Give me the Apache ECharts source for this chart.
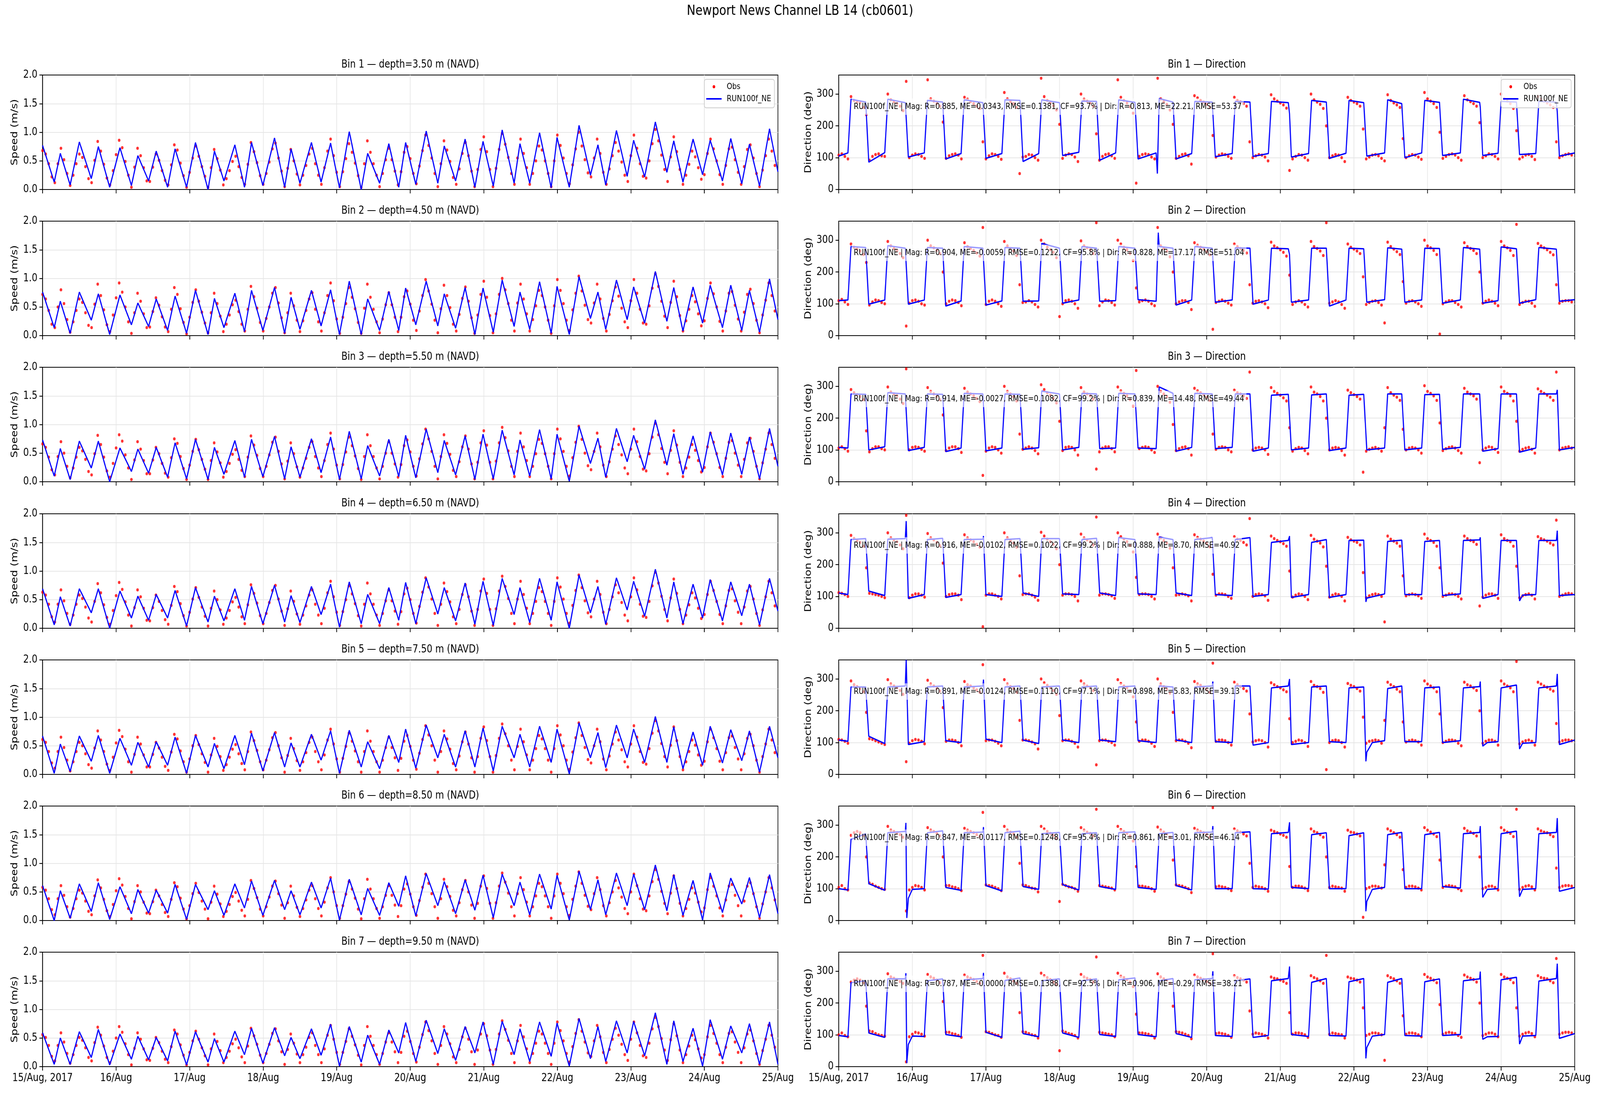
<!DOCTYPE html>
<html><head><meta charset="utf-8">
<script src="https://cdn.jsdelivr.net/npm/echarts@6/dist/echarts.min.js"></script>
<style>html,body{margin:0;padding:0;background:#fff;overflow:hidden}#c{width:5000px;height:2800px;transform-origin:0 0}</style>
</head><body><div id="c"></div>
<script>
// ---------------- DATA ----------------
const figTitle = 'Newport News Channel LB 14 (cb0601)';
const binDepths = ['3.50','4.50','5.50','6.50','7.50','8.50','9.50'];
const dayTickLabels = ['15/Aug, 2017','16/Aug','17/Aug','18/Aug','19/Aug','20/Aug','21/Aug','22/Aug','23/Aug','24/Aug','25/Aug'];
const seriesNames = ['Obs','RUN100f_NE'];
const statsText = [
 'RUN100f_NE | Mag: R=0.885, ME=0.0343, RMSE=0.1381, CF=93.7% | Dir: R=0.813, ME=22.21, RMSE=53.37',
 'RUN100f_NE | Mag: R=0.904, ME=-0.0059, RMSE=0.1212, CF=95.8% | Dir: R=0.828, ME=17.17, RMSE=51.04',
 'RUN100f_NE | Mag: R=0.914, ME=-0.0027, RMSE=0.1082, CF=99.2% | Dir: R=0.839, ME=14.48, RMSE=49.44',
 'RUN100f_NE | Mag: R=0.916, ME=-0.0102, RMSE=0.1022, CF=99.2% | Dir: R=0.888, ME=8.70, RMSE=40.92',
 'RUN100f_NE | Mag: R=0.891, ME=-0.0124, RMSE=0.1110, CF=97.1% | Dir: R=0.898, ME=5.83, RMSE=39.13',
 'RUN100f_NE | Mag: R=0.847, ME=-0.0117, RMSE=0.1248, CF=95.4% | Dir: R=0.861, ME=3.01, RMSE=46.14',
 'RUN100f_NE | Mag: R=0.787, ME=-0.0000, RMSE=0.1388, CF=92.5% | Dir: R=0.906, ME=-0.29, RMSE=38.21'
];
const speedTicks = [0, 0.5, 1.0, 1.5, 2.0];
const dirTicks = [0, 100, 200, 300];

// observation sampling (hours from 15 Aug 00:00)
const obsStartHour = 0, obsStepHours = 1;

// model speed: times (h) of turning points, and values (m/s) per bin
const spdT = [0,3.8,5.8,9.0,12,15.9,18.2,21.9,25.25,29,31.1,34.6,37.1,40.8,43.25,47,49.9,54,56.1,59.2,62.75,65.9,68.2,71.9,75.7,79,81.1,84,87.75,90.9,94,96.9,100.1,104,106.1,110,113,116.25,118.5,121.8,125.2,129,131.1,134.8,137.9,141.1,143.75,147.1,150,153.9,155.8,159,162.2,166,167.9,171.9,175.1,178.8,181.25,183.8,187.3,190.8,192.9,196.5,200,203.75,206,209,212.3,215.4,217.9,221.9,224.6,228.2,230.7,234,237.25,240];
const spdModelBin1 = [0.77,0.13,0.63,0.08,0.83,0.19,0.75,0.04,0.73,0.07,0.59,0.15,0.67,0.04,0.71,0.04,0.82,0.00,0.67,0.15,0.78,0.04,0.82,0.07,0.90,0.04,0.71,0.11,0.82,0.13,0.81,0.03,1.01,0.00,0.63,0.11,0.80,0.04,0.82,0.09,1.02,0.11,0.76,0.15,0.88,0.04,0.84,0.06,1.04,0.11,0.80,0.11,0.99,0.03,0.91,0.04,1.12,0.25,0.78,0.08,1.03,0.23,0.86,0.22,1.18,0.30,0.85,0.13,0.88,0.26,0.86,0.15,0.89,0.10,0.79,0.06,1.06,0.31];
const spdModelBin2 = [0.76,0.14,0.60,0.04,0.76,0.27,0.73,0.02,0.71,0.19,0.57,0.16,0.64,0.09,0.69,0.04,0.79,0.02,0.65,0.14,0.74,0.07,0.79,0.09,0.84,0.04,0.67,0.11,0.79,0.17,0.80,0.02,0.95,0.02,0.64,0.09,0.77,0.09,0.83,0.19,0.95,0.17,0.73,0.13,0.84,0.02,0.83,0.06,0.97,0.16,0.76,0.11,0.94,0.04,0.86,0.02,1.03,0.30,0.76,0.11,0.97,0.28,0.85,0.22,1.12,0.25,0.84,0.08,0.85,0.22,0.88,0.14,0.88,0.09,0.79,0.06,0.99,0.28];
const spdModelBin3 = [0.73,0.10,0.58,0.04,0.71,0.24,0.71,0.00,0.59,0.18,0.57,0.15,0.60,0.08,0.68,0.05,0.74,0.04,0.60,0.13,0.72,0.08,0.74,0.09,0.79,0.05,0.61,0.08,0.75,0.16,0.78,0.04,0.88,0.05,0.63,0.10,0.74,0.09,0.81,0.07,0.92,0.16,0.72,0.12,0.80,0.04,0.83,0.05,0.90,0.12,0.73,0.10,0.91,0.05,0.83,0.01,0.97,0.32,0.76,0.08,0.93,0.35,0.81,0.22,1.08,0.29,0.84,0.13,0.80,0.17,0.87,0.12,0.85,0.13,0.78,0.05,0.93,0.27];
const spdModelBin4 = [0.69,0.06,0.55,0.04,0.69,0.27,0.69,0.00,0.65,0.18,0.56,0.14,0.59,0.18,0.66,0.04,0.71,0.11,0.56,0.13,0.69,0.14,0.73,0.08,0.75,0.11,0.57,0.10,0.73,0.24,0.77,0.02,0.81,0.08,0.59,0.08,0.71,0.14,0.80,0.08,0.88,0.25,0.71,0.13,0.79,0.07,0.82,0.05,0.87,0.24,0.71,0.10,0.87,0.14,0.81,0.00,0.93,0.27,0.73,0.07,0.88,0.32,0.82,0.21,1.03,0.18,0.81,0.08,0.77,0.18,0.85,0.13,0.81,0.22,0.77,0.06,0.87,0.30];
const spdModelBin5 = [0.67,0.02,0.53,0.05,0.67,0.23,0.68,0.02,0.63,0.16,0.56,0.13,0.57,0.16,0.65,0.02,0.68,0.13,0.54,0.10,0.68,0.17,0.72,0.06,0.73,0.13,0.55,0.13,0.70,0.25,0.76,0.02,0.77,0.13,0.57,0.10,0.68,0.21,0.79,0.11,0.86,0.29,0.70,0.13,0.76,0.13,0.81,0.06,0.84,0.29,0.70,0.13,0.84,0.21,0.79,0.01,0.90,0.29,0.73,0.12,0.86,0.29,0.79,0.21,1.01,0.21,0.83,0.10,0.74,0.16,0.84,0.20,0.78,0.24,0.76,0.04,0.84,0.29];
const spdModelBin6 = [0.61,0.00,0.52,0.04,0.64,0.16,0.66,0.02,0.59,0.12,0.54,0.13,0.53,0.13,0.63,0.02,0.63,0.19,0.52,0.09,0.64,0.22,0.69,0.09,0.70,0.19,0.52,0.10,0.67,0.22,0.74,0.01,0.72,0.10,0.56,0.09,0.66,0.25,0.78,0.08,0.82,0.26,0.68,0.12,0.71,0.18,0.79,0.05,0.81,0.26,0.67,0.10,0.81,0.20,0.79,0.01,0.86,0.19,0.71,0.10,0.83,0.26,0.81,0.19,0.97,0.17,0.80,0.09,0.70,0.01,0.83,0.14,0.74,0.29,0.75,0.05,0.80,0.12];
const spdModelBin7 = [0.59,0.04,0.50,0.04,0.61,0.16,0.65,0.03,0.57,0.13,0.53,0.12,0.51,0.10,0.62,0.03,0.61,0.08,0.49,0.08,0.62,0.21,0.67,0.06,0.68,0.19,0.51,0.14,0.66,0.20,0.74,0.01,0.70,0.08,0.55,0.04,0.64,0.24,0.77,0.09,0.81,0.23,0.66,0.11,0.70,0.24,0.78,0.04,0.79,0.21,0.66,0.09,0.78,0.18,0.76,0.01,0.84,0.14,0.70,0.09,0.80,0.24,0.79,0.19,0.94,0.04,0.80,0.09,0.67,0.01,0.82,0.13,0.71,0.24,0.75,0.04,0.78,0.04];

// observed speed, hourly (cm/s)
const spdObsBin1 = [68,62,45,22,12,45,72,52,28,7,25,45,62,56,40,19,12,51,84,67,44,20,8,33,61,86,73,49,25,4,39,72,59,38,15,14,39,62,51,33,16,8,43,78,69,46,24,4,30,55,76,58,40,23,4,38,70,54,34,8,19,33,49,58,40,21,9,44,82,66,47,24,9,28,48,71,81,55,32,5,37,70,50,27,8,25,42,62,72,45,25,9,38,67,88,59,30,5,31,54,80,65,46,24,4,45,85,65,45,25,5,28,52,72,52,32,8,31,65,75,54,28,10,41,68,95,77,55,28,5,45,85,69,49,21,9,36,63,82,59,32,5,35,70,92,66,35,5,37,70,98,79,56,28,9,55,88,63,38,9,28,50,76,69,50,28,5,50,95,77,55,28,10,43,71,100,76,52,29,22,55,88,63,30,9,36,59,82,67,48,25,14,59,95,72,45,23,20,50,80,105,85,60,35,14,57,92,66,35,9,25,44,67,57,38,18,26,63,88,71,50,26,9,42,71,74,52,30,9,40,70,78,55,28,5,34,59,88,67,42];
const spdObsBin2 = [72,64,44,20,14,50,80,56,28,6,24,44,64,58,40,18,14,55,90,70,45,19,7,36,66,92,76,50,24,4,40,74,60,38,14,15,42,66,53,33,15,7,46,84,72,47,23,3,32,58,80,60,41,22,5,40,74,56,34,7,20,36,54,62,42,20,8,46,86,68,48,23,8,30,50,74,84,57,31,5,40,74,52,27,7,26,44,64,75,46,24,8,40,70,92,61,29,4,32,56,84,67,47,23,4,48,90,67,46,24,5,29,54,75,54,32,7,32,68,78,55,27,9,43,70,98,78,55,27,5,47,88,70,49,20,8,37,65,85,60,31,4,36,72,95,67,35,5,38,72,100,80,56,27,8,57,90,64,38,8,28,52,79,70,50,27,4,52,98,79,56,27,9,45,74,104,78,53,28,22,57,90,64,30,8,37,61,85,69,48,24,14,61,98,74,46,22,20,52,83,108,86,60,34,14,58,95,68,35,8,26,46,70,59,38,17,26,65,92,73,50,25,8,43,74,77,53,29,8,41,72,81,56,27,5,36,62,92,70,43];
const spdObsBin3 = [66,60,43,21,12,44,70,50,27,7,24,43,60,54,39,18,12,49,81,65,43,19,8,32,59,82,71,47,24,4,38,70,57,37,14,14,38,60,49,32,15,8,42,75,67,44,23,4,29,53,74,56,39,22,4,37,68,52,33,8,18,32,48,56,39,20,9,43,80,64,46,23,9,27,47,69,78,53,31,5,36,68,49,26,8,24,41,60,70,44,24,9,37,65,85,57,29,5,30,52,78,63,45,23,4,44,82,63,44,24,5,27,50,70,50,31,8,30,63,73,52,27,10,40,66,92,75,53,27,5,44,82,67,48,20,9,35,61,80,57,31,5,34,68,89,64,34,5,36,68,95,77,54,27,9,53,85,61,37,9,27,49,74,67,49,27,5,49,92,75,53,27,10,42,69,97,74,50,28,21,53,85,61,29,9,35,57,80,65,47,24,14,57,92,70,44,22,19,49,78,102,82,58,34,14,55,89,64,34,9,24,43,65,55,37,17,25,61,85,69,49,25,9,41,69,72,50,29,9,39,68,76,53,27,5,33,57,85,65,41];
const spdObsBin4 = [63,58,42,20,11,42,67,48,26,7,23,42,58,52,37,18,11,47,78,62,41,19,7,31,57,80,68,46,23,4,36,67,55,35,14,13,36,58,47,31,15,7,40,73,64,43,22,4,28,51,71,54,37,21,4,35,65,50,32,7,18,31,46,54,37,20,8,41,76,61,44,22,8,26,45,66,75,51,30,5,34,65,47,25,7,23,39,58,67,42,23,8,35,62,82,55,28,5,29,50,74,60,43,22,4,42,79,60,42,23,5,26,48,67,48,30,7,29,60,70,50,26,9,38,63,88,72,51,26,5,42,79,64,46,20,8,33,59,76,55,30,5,33,65,86,61,33,5,34,65,91,73,52,26,8,51,82,59,35,8,26,47,71,64,47,26,5,47,88,72,51,26,9,40,66,93,71,48,27,20,51,82,59,28,8,33,55,76,62,45,23,13,55,88,67,42,21,19,47,74,98,79,56,33,13,53,86,61,33,8,23,41,62,53,35,17,24,59,82,66,47,24,8,39,66,69,48,28,8,37,65,73,51,26,5,32,55,82,62,39];
const spdObsBin5 = [61,56,40,20,11,40,65,47,25,6,22,40,56,50,36,17,11,46,76,60,40,18,7,30,55,77,66,44,22,4,35,65,53,34,13,13,35,56,46,30,14,7,39,70,62,41,22,4,27,50,68,52,36,21,4,34,63,49,31,7,17,30,44,52,36,19,8,40,74,59,42,22,8,25,43,64,73,50,29,4,33,63,45,24,7,22,38,56,65,40,22,8,34,60,79,53,27,4,28,49,72,58,41,22,4,40,76,58,40,22,4,25,47,65,47,29,7,28,58,68,49,25,9,37,61,85,69,50,25,4,40,76,62,44,19,8,32,57,74,53,29,4,31,63,83,59,31,4,33,63,88,71,50,25,8,49,79,57,34,8,25,45,68,62,45,25,4,45,85,69,50,25,9,39,64,90,68,47,26,20,50,79,57,27,8,32,53,74,60,43,22,13,53,85,65,40,21,18,45,72,94,76,54,31,13,51,83,59,31,8,22,40,60,51,34,16,23,57,79,64,45,23,8,38,64,67,47,27,8,36,63,70,50,25,4,31,53,79,60,38];
const spdObsBin6 = [58,53,38,19,10,38,61,44,24,6,21,38,53,48,34,16,10,43,71,57,37,17,7,28,52,73,62,42,21,3,33,61,50,32,13,12,33,53,43,28,14,7,37,66,59,39,20,3,26,47,65,49,34,20,3,32,60,46,29,7,16,28,42,49,34,18,8,37,70,56,40,20,8,24,41,60,69,47,27,4,31,60,43,23,7,21,36,53,61,38,21,8,32,57,75,50,26,4,26,46,68,55,39,20,3,38,72,55,38,21,4,24,44,61,44,27,7,26,55,64,46,24,9,35,58,81,65,47,24,4,38,72,59,42,18,8,31,54,70,50,27,4,30,60,78,56,30,4,31,60,83,67,48,24,8,47,75,54,32,8,24,43,65,59,43,24,4,43,81,65,47,24,9,37,60,85,65,44,25,19,47,75,54,26,8,31,50,70,57,41,21,12,50,81,61,38,20,17,43,68,89,72,51,30,12,48,78,56,30,8,21,37,57,48,32,15,22,54,75,60,43,22,8,36,60,63,44,26,8,34,60,66,47,24,4,29,50,75,57,36];
const spdObsBin7 = [56,51,37,18,10,37,59,43,23,6,21,37,51,46,33,16,10,42,69,55,36,16,7,27,50,70,60,40,21,3,32,59,48,31,12,11,32,51,42,27,13,7,35,64,57,38,20,3,25,45,62,48,33,19,3,31,57,44,28,7,16,27,40,48,33,17,7,36,67,54,39,20,7,23,39,58,66,45,26,4,30,57,41,22,7,21,34,51,59,37,21,7,31,55,72,48,25,4,25,44,66,53,38,20,3,37,70,53,37,21,4,23,43,59,43,26,7,25,53,62,44,23,8,34,56,78,63,45,23,4,37,70,57,40,17,7,30,52,67,48,26,4,29,57,75,54,29,4,30,57,80,65,46,23,7,45,72,52,31,7,23,41,62,57,41,23,4,41,78,63,45,23,8,35,58,82,62,43,24,18,45,72,52,25,7,30,48,67,55,39,21,11,48,78,59,37,19,16,41,66,86,70,49,29,11,47,75,54,29,7,21,36,55,47,31,15,21,52,72,58,41,21,7,34,58,61,43,25,7,33,57,64,45,23,4,28,48,72,55,34];

// model direction: vertex times (h) = start/end of each ebb/flood plateau; values (deg) per bin
const dirT = [0,3.0,4.0,8.8,9.8,15.0,16.0,21.7,22.7,27.9,28.9,33.9,34.9,39.9,40.9,47.0,48.0,53.2,54.2,59.1,60.1,65.2,66.2,72.0,73.0,78.3,79.3,84.1,85.1,90.3,91.3,96.6,97.6,103.5,104.5,109.0,110.0,115.1,116.1,121.8,122.8,128.3,129.3,134.1,135.1,140.1,141.1,146.6,147.6,153.2,154.2,159.0,160.0,165.4,166.4,171.2,172.2,178.0,179.0,183.6,184.6,190.1,191.1,195.9,196.9,202.7,203.7,209.0,210.0,215.0,216.0,221.0,222.0,227.3,228.3,234.0,235.0,240];
const dirModelBin1 = [105,115,284,275,86,116,284,273,102,115,280,275,96,113,282,273,98,113,282,280,88,113,282,273,107,117,278,277,92,115,282,274,96,115,286,275,96,113,277,275,103,113,277,275,104,113,277,273,102,113,280,275,98,114,280,273,105,115,282,270,100,115,280,274,107,115,284,274,107,114,277,275,110,113,277,275,105,115];
const dirModelBin2 = [110,112,280,277,99,112,283,275,99,112,277,275,93,109,280,275,96,109,277,275,108,109,290,275,102,112,280,275,108,110,280,275,113,108,280,275,96,112,280,275,105,112,276,275,99,112,275,273,105,112,275,275,93,112,275,273,105,113,276,272,105,112,275,274,102,112,277,272,102,110,279,273,102,113,277,272,108,113];
const dirModelBin3 = [108,106,276,275,100,110,280,276,98,108,276,275,95,106,278,276,97,106,276,275,102,107,285,276,100,108,278,276,104,106,278,276,106,104,298,278,96,108,278,276,104,108,276,276,96,106,272,275,100,106,273,276,98,106,272,275,100,106,276,276,100,106,274,275,102,108,276,276,96,104,276,276,93,106,276,276,100,108];
const dirModelBin4 = [111,106,279,282,117,103,280,282,94,106,279,283,97,106,279,280,106,100,279,282,111,100,282,282,108,106,279,283,111,103,285,279,108,106,287,279,111,103,279,285,106,103,279,285,100,106,270,276,97,106,270,279,97,106,276,277,95,108,273,277,106,106,273,276,103,108,276,278,94,106,276,276,86,106,276,276,103,106];
const dirModelBin5 = [108,104,275,275,120,97,275,278,94,103,275,278,106,100,275,278,111,100,275,278,108,97,275,278,108,100,275,278,108,103,275,278,106,100,278,275,108,100,275,278,103,100,278,278,92,100,272,278,94,100,275,278,103,100,272,275,70,106,270,278,103,103,272,275,100,106,272,276,89,103,272,281,80,100,272,278,94,108];
const dirModelBin6 = [100,96,255,273,116,95,276,280,70,100,276,282,104,95,276,278,110,93,276,281,107,98,273,277,113,96,273,276,107,98,276,279,104,98,273,277,110,96,276,278,100,100,276,279,100,99,273,277,104,100,270,276,100,100,267,276,60,104,270,277,100,100,270,277,107,102,273,277,73,100,273,281,75,100,273,277,92,104];
const dirModelBin7 = [98,94,264,270,106,92,276,276,70,95,270,276,101,94,273,277,108,92,271,279,104,94,270,276,106,92,270,276,101,95,273,279,101,94,270,277,104,92,273,277,98,95,270,276,92,98,270,277,101,95,265,277,98,96,267,277,60,101,265,277,98,96,267,276,98,101,270,276,86,95,273,281,71,98,269,277,89,104];
// short model excursions around slack water [hour, deg]
const dirSpikesBin1 = [[22.0,225],[103.9,50],[147.0,238],[209.2,259],[234.3,244]];
const dirSpikesBin2 = [[104.2,324],[147.0,255]];
const dirSpikesBin3 = [[234.3,289]];
const dirSpikesBin4 = [[22.0,337],[47.2,290],[147.0,290],[171.9,83],[209.2,286],[223.0,104],[234.3,307]];
const dirSpikesBin5 = [[22.0,360],[47.2,298],[122.0,292],[147.0,300],[171.9,41],[174.0,100],[209.2,292],[211.5,100],[223.0,98],[234.3,316]];
const dirSpikesBin6 = [[21.9,307],[22.2,8],[24.0,98],[47.2,294],[122.0,297],[147.0,309],[171.9,29],[174.0,98],[209.2,297],[211.5,98],[223.0,98],[234.3,322]];
const dirSpikesBin7 = [[21.9,294],[22.2,11],[24.0,96],[47.2,295],[122.0,300],[147.0,315],[171.9,26],[174.0,96],[209.2,299],[211.5,94],[223.0,96],[234.3,324]];

// observed direction, hourly (deg)
const dirObsBin1 = [108,112,104,96,292,280,276,272,258,235,92,104,110,112,106,104,300,282,276,270,262,248,340,100,108,112,110,104,98,345,285,278,270,262,212,98,106,110,112,108,96,290,284,276,270,262,255,150,96,106,112,110,104,95,305,285,276,270,258,50,102,104,110,108,100,92,350,292,280,272,264,250,205,98,108,112,110,102,88,300,284,278,272,262,175,92,104,110,112,106,98,345,290,280,272,260,240,20,104,110,112,110,102,96,350,285,276,268,250,205,98,104,110,112,106,80,295,288,280,275,268,258,170,102,108,112,110,104,98,290,280,276,270,262,150,100,106,110,108,102,90,298,285,278,272,266,256,60,96,104,110,108,100,92,300,282,275,268,255,200,100,106,110,108,100,88,290,280,275,270,262,190,96,102,108,110,106,98,90,298,280,272,266,258,160,100,106,110,108,102,95,305,285,278,270,258,180,98,104,110,112,108,100,92,295,282,276,270,262,210,100,106,112,110,104,96,300,285,278,270,255,185,96,102,108,110,104,94,292,284,278,272,266,258,150,100,106,110,112,108];
const dirObsBin2 = [110,114,106,98,288,278,272,266,255,230,96,106,112,110,104,100,296,282,274,268,258,245,30,102,110,112,108,100,96,300,282,276,268,258,200,100,108,112,110,104,94,292,280,274,268,260,250,340,98,108,112,108,100,92,296,282,274,266,252,160,104,106,110,106,98,90,300,288,278,270,262,245,60,100,110,112,108,100,86,298,282,276,270,258,355,94,106,112,110,104,96,300,288,278,270,258,236,150,106,110,112,108,100,94,340,282,274,266,248,200,100,106,110,110,104,82,292,284,278,272,264,254,20,104,108,112,108,102,96,288,280,274,268,260,160,102,108,110,106,100,88,294,282,276,270,262,250,190,98,106,110,106,98,90,296,280,274,266,252,355,102,106,110,106,98,86,288,278,272,266,258,185,98,104,108,110,104,96,40,294,280,272,264,255,170,102,108,110,106,100,92,300,282,276,268,255,5,100,106,110,110,104,98,90,292,280,274,268,258,200,102,108,112,108,102,94,296,282,276,268,252,350,98,104,108,108,102,92,290,282,276,270,262,254,160,102,108,110,110,106];
const dirObsBin3 = [106,110,104,96,290,280,274,268,258,160,94,104,110,110,104,100,298,282,276,270,260,246,355,100,108,110,108,102,96,296,284,276,268,258,210,98,106,110,110,104,92,294,282,276,270,262,252,20,96,106,110,108,100,90,300,284,276,268,254,150,102,106,110,106,98,88,305,290,280,272,262,248,190,98,108,110,108,100,84,296,282,276,270,260,40,94,106,110,110,104,94,298,286,278,270,258,238,350,104,108,110,108,100,92,300,284,276,268,250,180,98,104,108,110,104,84,294,286,280,274,266,256,150,102,108,110,108,100,94,288,280,276,270,262,345,100,106,108,106,100,86,296,284,278,272,264,254,170,96,104,108,106,98,88,298,282,276,268,254,200,100,106,108,106,98,84,288,280,274,268,260,30,96,102,106,108,104,96,170,296,280,272,266,256,165,100,106,108,106,100,90,302,284,278,270,256,185,98,104,108,110,106,98,90,294,282,276,270,260,60,100,106,110,108,102,92,298,284,278,270,254,190,96,102,106,108,102,90,292,284,278,272,266,256,345,100,106,108,110,106];
const dirObsBin4 = [112,110,106,100,292,282,276,270,258,190,110,108,106,104,100,96,300,284,278,272,262,250,355,96,104,108,108,104,98,298,284,278,270,260,205,100,106,108,108,104,90,294,284,278,272,264,255,5,104,108,108,104,100,92,300,284,276,268,255,165,106,108,108,104,98,88,302,290,280,272,264,250,200,104,108,108,106,100,86,296,284,278,272,262,350,104,108,108,106,102,94,300,288,280,272,260,240,160,106,108,108,106,100,92,296,284,276,268,252,190,104,106,108,106,102,86,294,286,280,274,266,256,170,104,108,108,106,100,94,288,280,276,270,262,345,100,106,108,106,102,88,290,282,276,272,266,258,180,98,104,108,106,100,90,292,280,274,268,256,195,98,104,108,106,100,86,286,278,274,270,262,175,96,102,106,108,106,100,20,290,280,274,268,258,165,102,106,108,106,102,94,296,282,276,270,258,190,100,104,108,108,106,100,92,290,282,276,272,264,70,98,104,108,108,104,94,294,282,276,272,258,195,96,102,106,108,104,92,288,282,278,274,268,262,340,100,104,108,110,108];
const dirObsBin5 = [110,108,104,98,294,282,276,270,260,195,112,110,106,102,98,94,298,284,278,272,264,252,40,98,106,110,108,104,96,296,284,278,270,262,210,104,108,108,106,100,90,292,282,278,272,266,258,345,106,108,108,104,98,90,298,284,276,270,258,170,108,108,106,102,96,80,300,288,280,272,264,252,185,106,108,108,104,98,86,294,284,278,272,264,30,106,108,108,104,100,92,298,286,278,272,262,244,165,104,108,108,104,98,88,300,284,276,268,256,195,106,108,108,104,98,84,292,284,280,274,266,258,350,104,108,108,106,100,92,290,282,276,270,262,190,102,106,108,106,100,86,288,282,276,272,266,260,175,100,104,108,106,100,88,292,280,276,270,258,15,100,106,108,106,100,86,286,280,276,270,262,180,98,104,106,108,106,98,170,290,282,276,268,260,165,102,106,108,106,102,92,294,284,278,272,260,190,100,104,108,108,106,98,90,290,282,278,272,264,200,98,104,108,108,104,92,294,284,278,272,260,355,96,102,106,108,104,92,290,284,278,274,268,262,160,102,106,108,108,106];
const dirObsBin6 = [104,110,100,96,268,276,280,276,268,200,118,114,108,104,100,98,296,284,280,276,270,262,30,96,104,110,108,104,96,292,284,280,274,266,200,110,110,106,104,100,94,290,284,280,276,270,264,340,112,110,108,104,100,94,296,284,278,272,262,180,112,110,106,102,100,90,296,288,280,274,268,258,60,114,110,106,104,100,92,292,284,278,274,266,350,110,108,106,104,102,96,296,286,280,274,266,250,170,108,108,106,104,100,92,294,284,278,272,262,190,112,110,108,104,100,88,290,284,280,276,270,262,355,106,108,106,104,100,94,288,282,278,272,266,180,104,108,106,104,100,92,284,280,276,272,268,262,170,104,108,108,106,102,94,288,280,276,270,262,200,104,108,106,104,102,92,284,278,276,272,266,10,100,104,108,108,106,102,175,288,282,276,270,262,160,104,108,108,106,102,96,292,284,278,272,264,190,104,108,110,108,106,100,94,290,282,278,274,266,200,100,104,108,108,104,96,292,284,278,274,264,350,98,104,108,110,106,96,288,282,278,276,270,264,165,104,108,110,110,108];
const dirObsBin7 = [100,106,98,94,266,272,276,272,264,190,112,110,104,100,98,96,292,282,278,274,268,262,15,94,102,108,106,102,96,290,282,278,272,264,205,108,108,104,102,98,92,288,282,278,274,268,262,350,110,108,104,100,98,92,294,282,276,270,262,170,110,108,104,100,98,90,294,286,280,274,266,258,50,112,108,104,102,98,90,290,282,278,274,266,345,108,106,104,102,100,94,294,284,280,274,266,252,165,106,106,104,102,98,90,292,282,276,272,262,190,110,108,106,102,98,88,288,282,278,274,268,262,355,104,106,104,102,98,92,286,280,276,272,266,175,102,106,104,102,98,90,282,278,276,272,268,262,170,102,106,106,104,100,92,286,280,276,270,262,350,102,106,104,102,100,90,282,278,276,272,266,185,98,102,106,106,104,100,20,286,280,276,270,262,160,102,106,106,104,100,94,290,282,278,272,264,195,102,106,108,106,104,98,92,288,282,278,274,266,200,98,102,106,106,102,94,290,282,278,274,264,185,96,102,106,108,104,94,286,280,278,276,270,264,340,102,106,108,108,106];

// ---------------- CHART ----------------
const FONT = '"DejaVu Sans", "Liberation Sans", sans-serif';
const spdModel = [spdModelBin1,spdModelBin2,spdModelBin3,spdModelBin4,spdModelBin5,spdModelBin6,spdModelBin7];
const spdObs = [spdObsBin1,spdObsBin2,spdObsBin3,spdObsBin4,spdObsBin5,spdObsBin6,spdObsBin7];
const dirModel = [dirModelBin1,dirModelBin2,dirModelBin3,dirModelBin4,dirModelBin5,dirModelBin6,dirModelBin7];
const dirSpikes = [dirSpikesBin1,dirSpikesBin2,dirSpikesBin3,dirSpikesBin4,dirSpikesBin5,dirSpikesBin6,dirSpikesBin7];
const dirObs = [dirObsBin1,dirObsBin2,dirObsBin3,dirObsBin4,dirObsBin5,dirObsBin6,dirObsBin7];

const W = 5000, HH = 2800;
const tops = [192, 566, 940, 1315, 1689, 2063, 2437];
const H = 293;
const cols = [{left:133, width:2298}, {left:2621, width:2300}];

const grids = [], xAxes = [], yAxes = [], series = [], graphics = [];
const warn = [];
function txt(x, y, text, size, align, extra) {
  return Object.assign({type:'text', z:100, silent:true, style:{x:x, y:y, text:text, font: size + 'px ' + FONT, fill:'#000',
    textAlign:align, align:align, textVerticalAlign:'middle', verticalAlign:'middle'}}, extra || {});
}
const gridLine = {show:true, showMinLine:false, showMaxLine:false, lineStyle:{color:'#e6e6e6', width:2}};
const spine = {show:true, onZero:false, lineStyle:{color:'#000', width:2.2}};

for (let b = 0; b < 7; b++) {
  if (spdModel[b].length !== spdT.length) warn.push('spdModel'+(b+1)+':'+spdModel[b].length);
  if (spdObs[b].length !== 240) warn.push('spdObs'+(b+1)+':'+spdObs[b].length);
  if (dirModel[b].length !== dirT.length) warn.push('dirModel'+(b+1)+':'+dirModel[b].length);
  if (dirObs[b].length !== 240) warn.push('dirObs'+(b+1)+':'+dirObs[b].length);
  for (let c = 0; c < 2; c++) {
    const gi = grids.length;
    grids.push({left:cols[c].left, top:tops[b], width:cols[c].width, height:H, show:true,
      borderColor:'#000', borderWidth:2.2, backgroundColor:'rgba(0,0,0,0)', containLabel:false});
    xAxes.push({type:'value', gridIndex:gi, min:0, max:240, interval:24,
      axisLine:spine,
      axisTick:{show:true, inside:false, length:10, lineStyle:{color:'#000', width:2.2}},
      axisLabel:{show: b === 6, margin:16, color:'#000', fontFamily:FONT, fontSize:28,
        formatter: v => dayTickLabels[Math.round(v / 24)] || ''},
      splitLine:gridLine});
    if (c === 0) {
      yAxes.push({type:'value', gridIndex:gi, min:0, max:2, interval:0.5,
        name:'Speed (m/s)', nameLocation:'middle', nameGap:72, nameRotate:90,
        nameTextStyle:{fontFamily:FONT, fontSize:28, color:'#000'},
        axisLine:spine,
        axisTick:{show:true, length:10, lineStyle:{color:'#000', width:2.2}},
        axisLabel:{margin:16, color:'#000', fontFamily:FONT, fontSize:28, formatter: v => v.toFixed(1)},
        splitLine:gridLine});
      series.push({type:'scatter', name:seriesNames[0], xAxisIndex:gi, yAxisIndex:gi, z:2, silent:true,
        symbolSize:8, itemStyle:{color:'#ff0000'},
        data: spdObs[b].map((v, i) => [obsStartHour + i * obsStepHours, v / 100])});
      series.push({type:'line', name:seriesNames[1], xAxisIndex:gi, yAxisIndex:gi, z:3, silent:true,
        showSymbol:false, symbol:'none', lineStyle:{color:'#0000ff', width:3.5},
        data: spdT.map((t, i) => [t, spdModel[b][i]])});
      graphics.push(txt(cols[c].left + cols[c].width / 2, tops[b] - 26, 'Bin ' + (b + 1) + ' \u2014 depth=' + binDepths[b] + ' m (NAVD)', 28, 'center'));
    } else {
      yAxes.push({type:'value', gridIndex:gi, min:0, max:360, interval:100,
        name:'Direction (deg)', nameLocation:'middle', nameGap:80, nameRotate:90,
        nameTextStyle:{fontFamily:FONT, fontSize:28, color:'#000'},
        axisLine:spine,
        axisTick:{show:true, length:10, customValues:dirTicks, lineStyle:{color:'#000', width:2.2}},
        axisLabel:{margin:16, color:'#000', fontFamily:FONT, fontSize:28, customValues:dirTicks},
        splitLine:gridLine});
      series.push({type:'scatter', name:seriesNames[0], xAxisIndex:gi, yAxisIndex:gi, z:2, silent:true,
        symbolSize:8, itemStyle:{color:'#ff0000'},
        data: dirObs[b].map((v, i) => [obsStartHour + i * obsStepHours, v])});
      const pts = dirT.map((t, i) => [t, dirModel[b][i]]).concat(dirSpikes[b]).sort((p, q) => p[0] - q[0]);
      series.push({type:'line', name:seriesNames[1], xAxisIndex:gi, yAxisIndex:gi, z:3, silent:true,
        showSymbol:false, symbol:'none', lineStyle:{color:'#0000ff', width:3.5}, data: pts});
      graphics.push(txt(cols[c].left + cols[c].width / 2, tops[b] - 26, 'Bin ' + (b + 1) + ' \u2014 Direction', 28, 'center'));
      const st = txt(cols[c].left + 40, tops[b] + 81, statsText[b], 22, 'left');
      st.style.backgroundColor = 'rgba(255,255,255,0.6)';
      st.style.padding = [10, 7];
      graphics.push(st);
    }
  }
}

// figure title
graphics.push(txt(W / 2, 29, figTitle, 36, 'center'));

// legends (top-row panels)
[2201, 4691].forEach(function (lx) {
  const ly = 203;
  graphics.push({type:'rect', z:99, silent:true, shape:{x:lx, y:ly, width:219, height:73, r:6},
    style:{fill:'rgba(255,255,255,0.8)', stroke:'#cccccc', lineWidth:2}});
  graphics.push({type:'circle', z:101, silent:true, shape:{cx:lx + 30, cy:ly + 19, r:4}, style:{fill:'#ff0000'}});
  graphics.push({type:'line', z:101, silent:true, shape:{x1:lx + 6, y1:ly + 50, x2:lx + 54, y2:ly + 50},
    style:{stroke:'#0000ff', lineWidth:4}});
  graphics.push(txt(lx + 70, ly + 19, seriesNames[0], 22, 'left'));
  graphics.push(txt(lx + 70, ly + 50, seriesNames[1], 22, 'left'));
});

if (warn.length) graphics.push(txt(2500, 2790, 'LEN ' + warn.join(' '), 20, 'center'));

// fit the 5000x2800 design into whatever the viewport really is
const el = document.getElementById('c');
const vw = window.innerWidth || document.documentElement.clientWidth || W;
const vh = window.innerHeight || document.documentElement.clientHeight || HH;
const sx = vw / W, sy = vh / HH;
if (Math.abs(sx - 1) > 0.001 || Math.abs(sy - 1) > 0.001) el.style.transform = 'scale(' + sx + ',' + sy + ')';

const chart = echarts.init(el, null, {renderer:'canvas', width:W, height:HH});
chart.setOption({
  animation:false,
  backgroundColor:'#ffffff',
  textStyle:{fontFamily:FONT},
  grid:grids, xAxis:xAxes, yAxis:yAxes, series:series,
  graphic:{elements:graphics}
});
</script>
</body></html>
